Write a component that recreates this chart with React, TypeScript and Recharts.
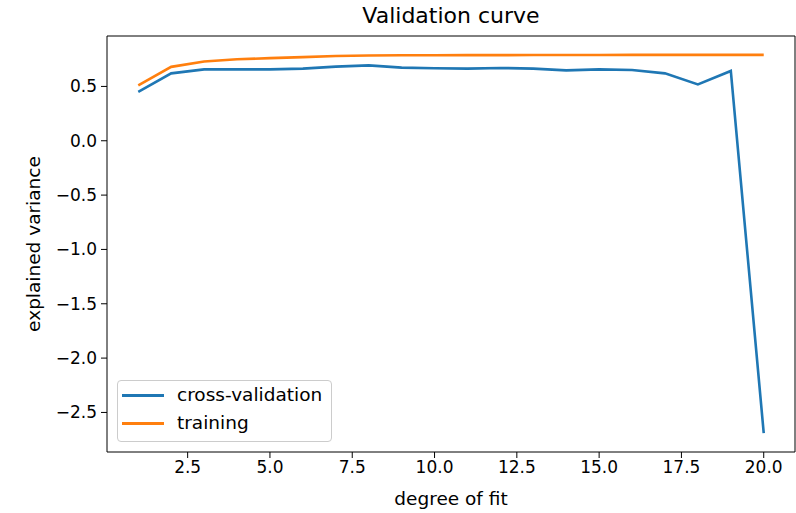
import React from 'react';
import {
  LineChart,
  Line,
  XAxis,
  YAxis,
  Legend,
  ReferenceLine
} from 'recharts';

// polynomial degree on the x axis
const degrees = [1, 2, 3, 4, 5, 6, 7, 8, 9, 10, 11, 12, 13, 14, 15, 16, 17, 18, 19, 20];

// mean explained variance per degree
const crossValidation = [
  0.45, 0.62, 0.657, 0.657, 0.657, 0.664, 0.682, 0.694, 0.673, 0.667,
  0.664, 0.67, 0.664, 0.648, 0.657, 0.651, 0.62, 0.518, 0.642, -2.69
];
const training = [
  0.51, 0.68, 0.73, 0.75, 0.76, 0.77, 0.78, 0.785, 0.787, 0.787,
  0.788, 0.788, 0.789, 0.789, 0.789, 0.79, 0.79, 0.79, 0.79, 0.79
];

const xTicks = [2.5, 5, 7.5, 10, 12.5, 15, 17.5, 20];
const yTicks = [-2.5, -2, -1.5, -1, -0.5, 0, 0.5];

const X_DOMAIN: [number, number] = [0.05, 20.95];
const Y_DOMAIN: [number, number] = [-2.864, 0.964];

const FONT = '"DejaVu Sans", sans-serif';
const BLUE = '#1f77b4';
const ORANGE = '#ff7f0e';

const chartData = degrees.map((d, i) => ({
  degree: d,
  cv: crossValidation[i],
  train: training[i]
}));

const fmt = (v: number) => v.toFixed(1).replace('-', '\u2212');

const renderLegend = () => (
  <div style={{
    border: '1px solid #cccccc',
    borderRadius: 4,
    background: 'rgba(255,255,255,0.8)',
    padding: '0 9px 4px 4px',
    fontFamily: FONT,
    fontSize: 18.5,
    color: '#000',
    lineHeight: '28px'
  }}>
    {[{ name: 'cross-validation', color: BLUE }, { name: 'training', color: ORANGE }].map(item => (
      <div key={item.name} style={{ display: 'flex', alignItems: 'center' }}>
        <span style={{ display: 'inline-block', width: 42, height: 3, background: item.color, marginRight: 13 }} />
        <span>{item.name}</span>
      </div>
    ))}
  </div>
);

export default function App() {
  const tick = { fill: '#000', fontSize: 17, fontFamily: FONT };
  const labelStyle = { fill: '#000', fontSize: 18.5, fontFamily: FONT };

  return (
    <div style={{ position: 'absolute', left: 0, top: 0, width: 796, height: 513, background: '#fff' }}>
      <div style={{
        position: 'absolute',
        left: 107,
        width: 688,
        top: 3,
        textAlign: 'center',
        fontFamily: FONT,
        fontSize: 22,
        color: '#000'
      }}>
        Validation curve
      </div>

      <LineChart
        width={796}
        height={513}
        data={chartData}
        margin={{ top: 36, right: 1, left: 0, bottom: 0 }}
      >
        <XAxis
          dataKey="degree"
          type="number"
          domain={X_DOMAIN}
          allowDataOverflow
          ticks={xTicks}
          tickFormatter={fmt}
          tick={tick}
          stroke="#000"
          tickSize={6}
          tickMargin={3}
          height={61}
          label={{
            value: 'degree of fit',
            position: 'insideBottom',
            offset: 8,
            style: labelStyle
          }}
        />
        <YAxis
          type="number"
          domain={Y_DOMAIN}
          allowDataOverflow
          ticks={yTicks}
          tickFormatter={fmt}
          tick={tick}
          stroke="#000"
          tickSize={6}
          tickMargin={4}
          width={107}
          label={{
            value: 'explained variance',
            angle: -90,
            position: 'insideLeft',
            offset: 33,
            style: { ...labelStyle, textAnchor: 'middle' }
          }}
        />
        {/* top and right spines */}
        <ReferenceLine y={Y_DOMAIN[1]} stroke="#000" strokeWidth={1} />
        <ReferenceLine x={X_DOMAIN[1]} stroke="#000" strokeWidth={1} />
        <Legend
          content={renderLegend}
          layout="horizontal"
          align="center"
          verticalAlign="middle"
          wrapperStyle={{ left: 117, top: 380, width: 'auto', height: 'auto' }}
        />
        <Line
          dataKey="cv"
          name="cross-validation"
          stroke={BLUE}
          strokeWidth={2.6}
          dot={false}
          isAnimationActive={false}
        />
        <Line
          dataKey="train"
          name="training"
          stroke={ORANGE}
          strokeWidth={2.6}
          dot={false}
          isAnimationActive={false}
        />
      </LineChart>
    </div>
  );
}
